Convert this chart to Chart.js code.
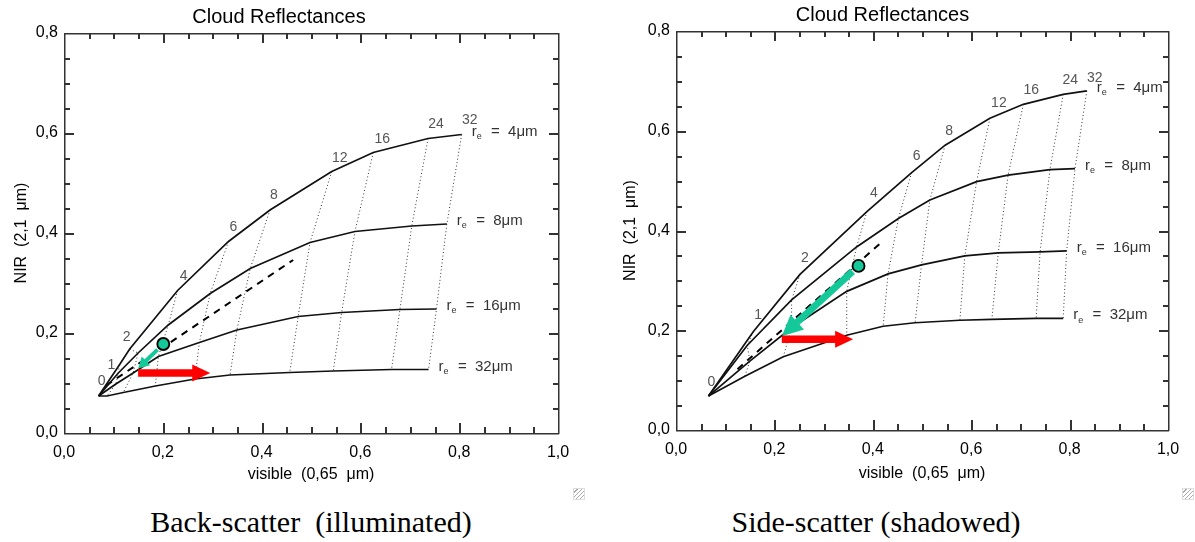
<!DOCTYPE html>
<html>
<head>
<meta charset="utf-8">
<script src="https://cdn.jsdelivr.net/npm/chart.js@4.4.1/dist/chart.umd.min.js"></script>
<style>
  body { margin: 0; background: #fff; width: 1195px; height: 542px; position: relative; overflow: hidden; }
  .panel { position: absolute; top: 0; height: 500px; }
  #back { left: 0; width: 597px; }
  #side { left: 597px; width: 598px; }
  .caption { position: absolute; top: 505px; font-family: "Liberation Serif", "Times New Roman", serif; font-size: 30px; line-height: 34px; white-space: pre; transform: translateX(-50%); color: #000; }
  .grip { position: absolute; top: 488px; width: 10px; height: 10px; border: 1px solid #ddd; background: repeating-linear-gradient(135deg, #fff 0 2px, #aaa 2px 3px); }
</style>
</head>
<body>
<div class="panel" id="back"><canvas id="backChart"></canvas></div>
<div class="panel" id="side"><canvas id="sideChart"></canvas></div>
<div class="grip" style="left:573px"></div>
<div class="grip" style="left:1182px"></div>
<div class="caption" style="left:311px">Back-scatter  (illuminated)</div>
<div class="caption" style="left:876px">Side-scatter (shadowed)</div>
<script>
// --- Data ---
const tauLabels = ['0', '1', '2', '4', '6', '8', '12', '16', '24', '32'];
const reLabels = ['4', '8', '16', '32'];
const xTicks = [0, 0.2, 0.4, 0.6, 0.8, 1.0];
const yTicks = [0, 0.2, 0.4, 0.6, 0.8];

// back-scatter (illuminated)
const backRe4X  = [0.070, 0.112, 0.133, 0.230, 0.333, 0.417, 0.542, 0.626, 0.737, 0.805];
const backRe4Y  = [0.074, 0.136, 0.168, 0.285, 0.383, 0.446, 0.523, 0.561, 0.589, 0.597];
const backRe8X  = [0.070, 0.110, 0.150, 0.211, 0.296, 0.377, 0.498, 0.589, 0.704, 0.775];
const backRe8Y  = [0.074, 0.120, 0.160, 0.216, 0.279, 0.329, 0.381, 0.403, 0.414, 0.418];
const backRe16X = [0.070, 0.105, 0.140, 0.191, 0.274, 0.350, 0.474, 0.562, 0.680, 0.754];
const backRe16Y = [0.074, 0.098, 0.120, 0.153, 0.181, 0.206, 0.233, 0.241, 0.247, 0.248];
const backRe32X = [0.070, 0.087, 0.120, 0.185, 0.265, 0.336, 0.457, 0.545, 0.663, 0.738];
const backRe32Y = [0.074, 0.074, 0.081, 0.094, 0.108, 0.116, 0.121, 0.124, 0.127, 0.127];
const backDashX = [0.085, 0.464];
const backDashY = [0.095, 0.346];
const backDot = [0.201, 0.178];
const backGreenTip = [0.150, 0.129];
const backRedX = [0.150, 0.296];
const backRedY = [0.120, 0.120];

// side-scatter (shadowed)
const sideRe4X  = [0.066, 0.157, 0.252, 0.388, 0.479, 0.547, 0.638, 0.706, 0.787, 0.835];
const sideRe4Y  = [0.068, 0.197, 0.312, 0.438, 0.516, 0.571, 0.625, 0.653, 0.673, 0.680];
const sideRe8X  = [0.066, 0.145, 0.235, 0.367, 0.452, 0.516, 0.611, 0.675, 0.760, 0.811];
const sideRe8Y  = [0.068, 0.170, 0.261, 0.367, 0.424, 0.461, 0.498, 0.511, 0.522, 0.524];
const sideRe16X = [0.066, 0.150, 0.235, 0.347, 0.431, 0.499, 0.587, 0.655, 0.740, 0.794];
const sideRe16Y = [0.068, 0.138, 0.205, 0.278, 0.313, 0.331, 0.349, 0.355, 0.357, 0.359];
const sideRe32X = [0.066, 0.140, 0.218, 0.347, 0.421, 0.486, 0.577, 0.642, 0.732, 0.787];
const sideRe32Y = [0.068, 0.108, 0.147, 0.190, 0.208, 0.215, 0.220, 0.222, 0.224, 0.224];
const sideDashX = [0.125, 0.415];
const sideDashY = [0.122, 0.374];
const sideDot = [0.371, 0.329];
const sideGreenTip = [0.215, 0.188];
const sideRedX = [0.215, 0.360];
const sideRedY = [0.182, 0.182];

// --- Styles / layout ---
const FONT = '"Liberation Sans", Arial, sans-serif';
const TEAL = '#14c89a';
const RED = '#ff0000';
// pixel nudges for the optical-thickness labels (from each point on the r_e = 4 curve)
const backTauOffsets = [[3, -15], [-8, 0], [-3, -12], [6, -14], [5, -14], [4, -15], [8, -13], [9, -13], [8, -14], [8, -14]];
const sideTauOffsets = [[3, -14], [5, -17], [5, -16], [7, -18], [5, -17], [4, -14], [9, -15], [8, -14], [7, -14], [8, -13]];

function pts(xs, ys) {
  return xs.map((x, i) => ({ x, y: ys[i] }));
}

function fmt(v) {
  return v.toFixed(1).replace('.', ',');
}

function drawArrow(ctx, x0, y0, x1, y1, w, hw, hl, color) {
  const ang = Math.atan2(y1 - y0, x1 - x0);
  const len = Math.hypot(x1 - x0, y1 - y0);
  ctx.save();
  ctx.translate(x0, y0);
  ctx.rotate(ang);
  ctx.fillStyle = color;
  ctx.fillRect(0, -w / 2, len - hl + 1, w);
  ctx.beginPath();
  ctx.moveTo(len, 0);
  ctx.lineTo(len - hl, -hw / 2);
  ctx.lineTo(len - hl, hw / 2);
  ctx.closePath();
  ctx.fill();
  ctx.restore();
}

// frame with inward ticks on all four sides (IDL style)
const frameTicks = {
  id: 'frameTicks',
  afterDatasetsDraw(chart) {
    const ctx = chart.ctx;
    const a = chart.chartArea;
    const sx = chart.scales.x, sy = chart.scales.y;
    const L = Math.round(a.left), R = Math.round(a.right);
    const T = Math.round(a.top), B = Math.round(a.bottom);
    ctx.save();
    ctx.fillStyle = '#333';
    ctx.fillRect(L, T, R - L + 1, 1.5);
    ctx.fillRect(L, B, R - L + 1, 1.5);
    ctx.fillRect(L, T, 1.5, B - T + 1);
    ctx.fillRect(R, T, 1.5, B - T + 1);
    for (let i = 1; i < 20; i++) {
      const p = Math.round(sx.getPixelForValue(i * 0.05));
      const len = i % 4 === 0 ? 10 : 6;
      ctx.fillRect(p, B - len, 2, len);
      ctx.fillRect(p, T, 2, len);
    }
    for (let i = 1; i < 16; i++) {
      const p = Math.round(sy.getPixelForValue(i * 0.05));
      const len = i % 4 === 0 ? 10 : 6;
      ctx.fillRect(L, p, len, 2);
      ctx.fillRect(R - len + 1, p, len, 2);
    }
    ctx.restore();
  }
};

// arrows, tau labels and r_e labels
const annot = {
  id: 'annot',
  afterDatasetsDraw(chart, args, o) {
    const { ctx, scales: { x, y } } = chart;
    const P = (vx, vy) => [x.getPixelForValue(vx), y.getPixelForValue(vy)];

    // green arrow from circle edge to tip
    const [cx, cy] = P(o.dot[0], o.dot[1]);
    const [tx, ty] = P(o.greenTip[0], o.greenTip[1]);
    const d = Math.hypot(tx - cx, ty - cy);
    const s = (o.dotR + 2) / d;
    drawArrow(ctx, cx + (tx - cx) * s, cy + (ty - cy) * s, tx, ty, o.greenW, o.greenHW, o.greenHL, TEAL);

    // red arrow
    const [r0x, r0y] = P(o.redX[0], o.redY[0]);
    const [r1x, r1y] = P(o.redX[1], o.redY[1]);
    drawArrow(ctx, r0x, r0y, r1x, r1y, 7.5, 17, 18, RED);

    ctx.save();
    // tau labels along the r_e = 4 curve
    ctx.font = '14px ' + FONT;
    ctx.fillStyle = '#555';
    ctx.textAlign = 'center';
    ctx.textBaseline = 'middle';
    tauLabels.forEach((t, i) => {
      const [px, py] = P(o.top.x[i], o.top.y[i]);
      ctx.fillText(t, px + o.tauOff[i][0], py + o.tauOff[i][1]);
    });

    // r_e labels at the end of each curve
    ctx.fillStyle = '#333';
    ctx.textAlign = 'left';
    o.ends.forEach((e, i) => {
      const [px, py] = P(e[0], e[1]);
      let lx = px + 10;
      const ly = py - 3;
      ctx.font = '15px ' + FONT;
      ctx.fillText('r', lx, ly);
      lx += ctx.measureText('r').width;
      ctx.font = '9px ' + FONT;
      ctx.fillText('e', lx, ly + 5);
      lx += ctx.measureText('e').width + 1;
      ctx.font = '15px ' + FONT;
      ctx.fillText('  =  ' + reLabels[i] + '\u03bcm', lx, ly);
    });
    ctx.restore();
  }
};

function makePanel(id, d) {
  const curves = [d.re4, d.re8, d.re16, d.re32];
  const datasets = [];

  // green circle (drawn on top)
  datasets.push({
    data: [{ x: d.dot[0], y: d.dot[1] }],
    showLine: false,
    pointRadius: 6,
    pointBackgroundColor: TEAL,
    pointBorderColor: '#000',
    pointBorderWidth: 1.8
  });

  curves.forEach(c => {
    datasets.push({
      data: pts(c.x, c.y),
      borderColor: '#111',
      borderWidth: 1.7,
      pointRadius: 0,
      tension: 0
    });
  });

  // dotted lines of constant optical thickness
  for (let i = 1; i < tauLabels.length; i++) {
    datasets.push({
      data: curves.map(c => ({ x: c.x[i], y: c.y[i] })),
      borderColor: '#333',
      borderWidth: 1,
      borderDash: [1, 2.5],
      pointRadius: 0,
      tension: 0
    });
  }

  datasets.push({
    data: pts(d.dashX, d.dashY),
    borderColor: '#000',
    borderWidth: 2,
    borderDash: [7, 6],
    pointRadius: 0
  });

  return new Chart(document.getElementById(id), {
    type: 'line',
    data: { datasets },
    options: {
      responsive: true,
      maintainAspectRatio: false,
      animation: false,
      events: [],
      layout: { padding: { left: 0, right: d.padRight, top: 0, bottom: 0 } },
      plugins: {
        legend: { display: false },
        tooltip: { enabled: false },
        title: {
          display: true,
          text: 'Cloud Reflectances',
          color: '#000',
          font: { family: FONT, size: 20, weight: 'normal' },
          padding: { top: d.titleTop, bottom: 3.5 }
        },
        annot: {
          dot: d.dot,
          dotR: 6,
          greenTip: d.greenTip,
          greenW: d.greenW,
          greenHW: d.greenHW,
          greenHL: d.greenHL,
          redX: d.redX,
          redY: d.redY,
          top: d.re4,
          tauOff: d.tauOff,
          ends: curves.map(c => [c.x[c.x.length - 1], c.y[c.y.length - 1]])
        }
      },
      scales: {
        x: {
          type: 'linear',
          min: 0,
          max: 1,
          afterBuildTicks: s => { s.ticks = xTicks.map(v => ({ value: v })); },
          afterFit: s => { s.height = d.xAxisH; },
          ticks: { callback: fmt, color: '#000', padding: 10, maxRotation: 0, font: { family: FONT, size: 16 } },
          grid: { display: false, drawTicks: false },
          border: { display: false },
          title: {
            display: true,
            text: 'visible  (0,65  \u03bcm)',
            color: '#000',
            font: { family: FONT, size: 16 },
            padding: { top: 0, bottom: d.xTitlePad }
          }
        },
        y: {
          type: 'linear',
          min: 0,
          max: 0.8,
          afterBuildTicks: s => { s.ticks = yTicks.map(v => ({ value: v })); },
          afterFit: s => { s.width = d.yAxisW; },
          ticks: { callback: fmt, color: '#000', padding: 6, font: { family: FONT, size: 16 } },
          grid: { display: false, drawTicks: false },
          border: { display: false },
          title: {
            display: true,
            text: 'NIR  (2,1  \u03bcm)',
            color: '#000',
            font: { family: FONT, size: 16 },
            padding: { top: d.yTitlePad, bottom: 0 }
          }
        }
      }
    },
    plugins: [frameTicks, annot]
  });
}

makePanel('backChart', {
  re4: { x: backRe4X, y: backRe4Y },
  re8: { x: backRe8X, y: backRe8Y },
  re16: { x: backRe16X, y: backRe16Y },
  re32: { x: backRe32X, y: backRe32Y },
  dashX: backDashX, dashY: backDashY,
  dot: backDot, greenTip: backGreenTip,
  greenW: 4, greenHW: 12, greenHL: 11,
  redX: backRedX, redY: backRedY,
  tauOff: backTauOffsets,
  padRight: 39, titleTop: 5.5, xAxisH: 67, yAxisW: 64,
  xTitlePad: 15.4, yTitlePad: 12.4
});

makePanel('sideChart', {
  re4: { x: sideRe4X, y: sideRe4Y },
  re8: { x: sideRe8X, y: sideRe8Y },
  re16: { x: sideRe16X, y: sideRe16Y },
  re32: { x: sideRe32X, y: sideRe32Y },
  dashX: sideDashX, dashY: sideDashY,
  dot: sideDot, greenTip: sideGreenTip,
  greenW: 7, greenHW: 20, greenHL: 21,
  redX: sideRedX, redY: sideRedY,
  tauOff: sideTauOffsets,
  padRight: 27, titleTop: 3.5, xAxisH: 70, yAxisW: 79,
  xTitlePad: 16.9, yTitlePad: 24.4
});
</script>
</body>
</html>
